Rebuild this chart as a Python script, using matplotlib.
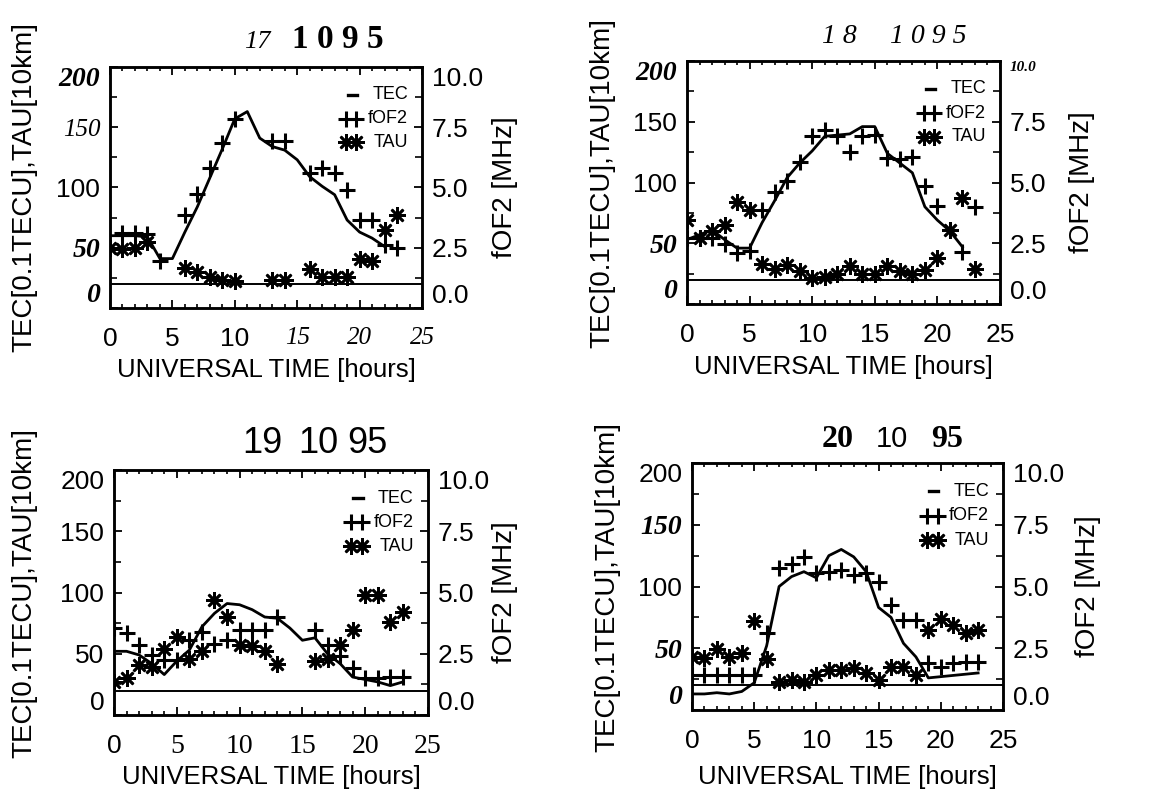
import numpy as np
import matplotlib
matplotlib.use("Agg")
import matplotlib.pyplot as plt
from matplotlib.font_manager import FontProperties
from matplotlib.ticker import MultipleLocator

# ---------------- data (hourly values, UT 0..23) ----------------
hours = np.arange(24)
nan = np.nan

# 17 Oct 1995
tec_17 = [60, 60, 60, 59, 41, 41, 63, 84, 108, 132, 157, 163, 141, 134, 131, 123,
          109, 101, 94, 73, 63, 58, 51, nan]
fof2_17 = [nan, 3.10, 3.10, 3.05, 1.95, nan, 3.85, 4.75, 5.80, 6.85, 7.85, nan,
           nan, 6.95, 6.95, nan, 5.60, 5.80, 5.60, 4.90, 3.65, 3.65, 2.60, 2.50]
tau_17 = [50, 49, 50, 55, nan, nan, 33, 30, 26, 23, 22, nan, nan, 23, 23, nan,
          32, 26, 26, 26, 41, 39, 65, 77]

# 18 Oct 1995
tec_18 = [53, 57, 61, 53, 46, 46, 67, 85, 104, 116, 126, 138, 139, 140, 146, 146,
          124, 116, 108, 80, 69, 60, 47, nan]
fof2_18 = [2.70, 2.70, 2.70, 2.45, 2.10, 2.20, 3.85, 4.60, 5.05, 5.85, 6.90, 7.15,
           6.90, 6.25, 6.90, 6.95, 6.00, 5.95, 6.05, 4.85, 4.05, 3.05, 2.15, 4.00]
tau_18 = [69, 54, 60, 65, 84, 77, 33, 29, 32, 27, 21, 22, 25, 31, 25, 25,
          31, 27, 25, 28, 38, 61, 87, 29]

# 19 Oct 1995
tec_19 = [52, 52, 49, 42, 33, 44, 53, 72, 83, 91, 90, 86, 80, 79, 71, 61,
          63, 50, 42, 31, 29, 27, 24, 27]
fof2_19 = [3.55, 3.35, 2.85, 2.45, 2.25, 2.25, 3.05, 3.40, 2.90, 3.05, 3.45, 3.45,
           3.45, 4.00, nan, nan, 3.45, 2.85, 2.40, 1.90, 1.50, 1.50, 1.55, 1.55]
tau_19 = [27, 30, 41, 39, 54, 64, 46, 52, 94, 80, 57, 56, 52, 42, nan, nan,
          44, 46, 57, 69, 98, 98, 76, 84]

# 20 Oct 1995
tec_20 = [13, 13, 14, 13, 15, 22, 52, 100, 108, 112, 107, 125, 130, 124, 112, 83,
          75, 54, 43, 26, 27, 28, 29, 30]
fof2_20 = [1.40, 1.40, 1.40, 1.40, 1.40, 1.40, 3.10, 5.75, 5.90, 6.20, 5.55, 5.60,
           5.65, 5.45, 5.55, 5.20, 4.25, 3.65, 3.65, 1.90, 1.75, 1.90, 1.95, 1.95]
tau_20 = [43, 42, 49, 43, 46, 72, 41, 23, 24, 23, 28, 32, 32, 34, 30, 24,
          35, 35, 28, 65, 74, 69, 62, 65]

tec_ref_level = 20

tec_ticks = [0, 50, 100, 150, 200]
fof2_ticks = [0.0, 2.5, 5.0, 7.5, 10.0]
ut_ticks = [0, 5, 10, 15, 20, 25]

ylabel_left = "TEC[0.1TECU],TAU[10km]"
ylabel_right = "fOF2 [MHz]"
xlabel = "UNIVERSAL TIME [hours]"

# ---------------- styles ----------------
W, H = 1174, 794
SANS = "Liberation Sans"
SERIF = "Liberation Serif"
FS = {
    "s": dict(family=SANS, size=19),
    "bi": dict(family=SERIF, weight="bold", style="italic", size=20),
    "it": dict(family=SERIF, style="italic", size=18),
    "r": dict(family=SERIF, size=20),
    "bis": dict(family=SERIF, weight="bold", style="italic", size=11),
}
TAU_MARKER = (8, 2, 0)
TAU_STYLE = dict(ls="none", marker=TAU_MARKER, ms=12, mew=1.9, color="k")
FOF_STYLE = dict(ls="none", marker="+", ms=11, mew=2.2, color="k")

panels = [
    dict(box=(110, 67, 422, 308), tec=tec_17, fof=fof2_17, tau=tau_17,
         left=["bi", "bi", "s", "it", "bi"], bottom=["s", "s", "s", "it", "it", "it"],
         right=["s"] * 5, ylab_x=24, rlab_x=505, xlab_y=370,
         title=[("17", 257, "it", 19), ("1 0 9 5", 338, "b", 24)], title_y=48),
    dict(box=(687, 61, 1000, 304), tec=tec_18, fof=fof2_18, tau=tau_18,
         left=["bi", "bi", "s", "s", "bi"], bottom=["s"] * 6,
         right=["s", "s", "s", "s", "bis"], ylab_x=602, rlab_x=1082, xlab_y=367,
         title=[("1 8", 839, "it", 20), ("1 0 9 5", 928, "it", 20)], title_y=43),
    dict(box=(114, 470, 428, 715), tec=tec_19, fof=fof2_19, tau=tau_19,
         left=["s"] * 5, bottom=["s", "r", "r", "r", "r", "r"],
         right=["s"] * 5, ylab_x=24, rlab_x=505, xlab_y=777,
         title=[("19", 262, "s", 26), ("10", 318, "s", 26), ("95", 367, "s", 26)],
         title_y=453),
    dict(box=(692, 463, 1003, 710), tec=tec_20, fof=fof2_20, tau=tau_20,
         left=["bi", "bi", "s", "bi", "s"], bottom=["s"] * 6,
         right=["s"] * 5, ylab_x=607, rlab_x=1088, xlab_y=777,
         title=[("20", 838, "b", 23), ("10", 892, "s", 21), ("95", 947, "b", 23)],
         title_y=447),
]

fig = plt.figure(figsize=(W / 100, H / 100), dpi=100)
fig.patch.set_facecolor("white")


def style_labels(labels, keys, ends_inside=False):
    for i, (lab, key) in enumerate(zip(labels, keys)):
        lab.set_fontproperties(FontProperties(**FS[key]))
        if ends_inside:
            if i == 0:
                lab.set_verticalalignment("bottom")
            elif i == len(keys) - 1:
                lab.set_verticalalignment("top")


def title_font(kind, size):
    if kind == "b":
        return dict(family=SERIF, weight="bold", size=size)
    if kind == "it":
        return dict(family=SERIF, style="italic", size=size)
    return dict(family=SANS, size=size)


for p in panels:
    l, t, r, b = p["box"]
    ax = fig.add_axes([l / W, 1 - b / H, (r - l) / W, (b - t) / H])
    ax.set_xlim(0, 25)
    ax.set_ylim(0, 200)
    ax.axhline(tec_ref_level, color="k", lw=1.4)
    ax.plot(hours, p["tec"], color="k", lw=2.0)
    ax.plot(hours, p["tau"], **TAU_STYLE)

    ax2 = ax.twinx()
    ax2.set_ylim(0, 10)
    ax2.plot(hours, p["fof"], **FOF_STYLE)

    for a in (ax, ax2):
        for sp in a.spines.values():
            sp.set_linewidth(1.8)

    ax.set_xticks(ut_ticks)
    ax.set_xticklabels([str(v) for v in ut_ticks])
    ax.xaxis.set_minor_locator(MultipleLocator(1))
    ax.set_yticks(tec_ticks)
    ax.set_yticklabels([str(v) for v in tec_ticks])
    ax.yaxis.set_minor_locator(MultipleLocator(25))
    ax.tick_params(axis="x", which="major", direction="in", length=6, width=1.3,
                   top=True, pad=14)
    ax.tick_params(axis="x", which="minor", direction="in", length=3, width=1.2,
                   top=True)
    ax.tick_params(axis="y", which="major", direction="in", length=6, width=1.3,
                   right=False, pad=7)
    ax.tick_params(axis="y", which="minor", direction="in", length=5, width=1.2,
                   right=False)

    ax2.set_yticks(fof2_ticks)
    ax2.set_yticklabels([f"{v:.1f}" for v in fof2_ticks])
    ax2.yaxis.set_minor_locator(MultipleLocator(1.25))
    ax2.tick_params(axis="y", which="major", direction="in", length=6, width=1.3, pad=7)
    ax2.tick_params(axis="y", which="minor", direction="in", length=5, width=1.2)

    style_labels(ax.get_yticklabels(), p["left"], ends_inside=True)
    style_labels(ax.get_xticklabels(), p["bottom"])
    style_labels(ax2.get_yticklabels(), p["right"], ends_inside=True)

    # legend key
    ry = (0.885, 0.786, 0.688)
    ax2.plot([0.762, 0.792], [ry[0]] * 2, transform=ax.transAxes, color="k", lw=2.4)
    ax2.plot([0.756, 0.790], [ry[1]] * 2, transform=ax.transAxes, **FOF_STYLE)
    ax2.plot([0.756, 0.790], [ry[2]] * 2, transform=ax.transAxes, **TAU_STYLE)
    for yy, s in zip(ry, ["TEC", "fOF2", "TAU"]):
        ax2.text(0.955, yy, s, transform=ax.transAxes, ha="right", va="center",
                 family=SANS, size=13)

    # axis titles
    cy = (t + b) / 2
    fig.text(p["ylab_x"] / W, 1 - cy / H, ylabel_left, rotation=90, ha="center",
             va="center", family=SANS, size=20)
    fig.text(p["rlab_x"] / W, 1 - cy / H, ylabel_right, rotation=90, ha="center",
             va="center", family=SANS, size=20)
    fig.text((l + r) / 2 / W, 1 - p["xlab_y"] / H, xlabel, ha="center", va="center",
             family=SANS, size=18.5)

    for s, xc, kind, size in p["title"]:
        fig.text(xc / W, 1 - p["title_y"] / H, s, ha="center", va="baseline",
                 **title_font(kind, size))

fig.savefig("out.png", dpi=100, facecolor="white")
